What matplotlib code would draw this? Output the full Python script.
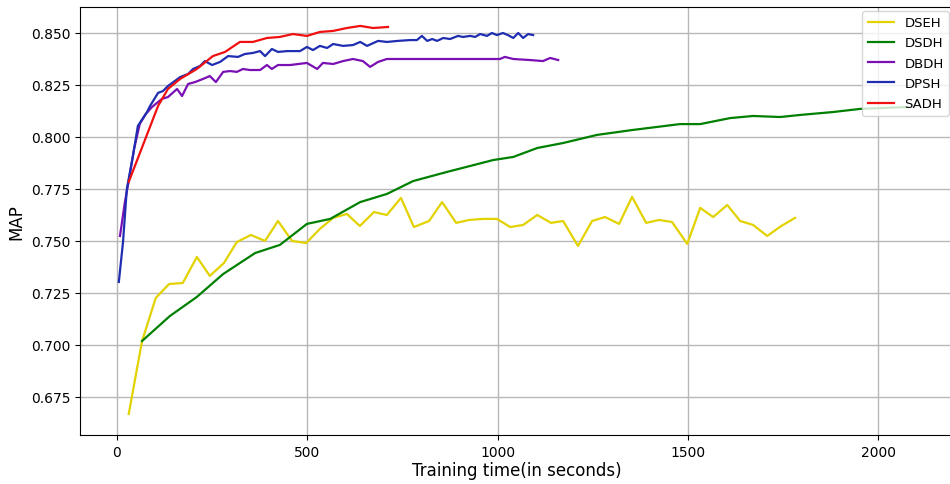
import matplotlib
matplotlib.use("Agg")
import matplotlib.pyplot as plt

# DSEH (yellow)
dseh_t = [31, 66, 102, 137, 173, 210, 244, 281, 315, 352, 389, 423, 460, 497,
          533, 568, 604, 638, 675, 709, 746, 780, 820, 854, 891, 925, 962, 998,
          1033, 1067, 1104, 1140, 1172, 1211, 1248, 1282, 1319, 1353, 1390, 1424,
          1458, 1498, 1532, 1566, 1603, 1637, 1671, 1708, 1745, 1781]
dseh_map = [0.6668, 0.7019, 0.7226, 0.7293, 0.7298, 0.7423, 0.7332, 0.7394,
            0.7495, 0.7529, 0.7500, 0.7596, 0.7500, 0.7490, 0.7558, 0.7611,
            0.7630, 0.7572, 0.7639, 0.7625, 0.7707, 0.7567, 0.7596, 0.7687,
            0.7587, 0.7601, 0.7606, 0.7606, 0.7567, 0.7577, 0.7625, 0.7587,
            0.7596, 0.7476, 0.7596, 0.7615, 0.7582, 0.7712, 0.7587, 0.7601,
            0.7591, 0.7486, 0.7659, 0.7615, 0.7673, 0.7596, 0.7577, 0.7524,
            0.7572, 0.7611]

# DSDH (green)
dsdh_t = [66, 139, 210, 279, 363, 428, 499, 560, 639, 709, 778, 867, 988, 1041,
          1104, 1172, 1261, 1356, 1479, 1532, 1611, 1671, 1742, 1795, 1881, 1952,
          2076]
dsdh_map = [0.7019, 0.7139, 0.7231, 0.7341, 0.7442, 0.7481, 0.7582, 0.7606,
            0.7687, 0.7726, 0.7788, 0.7832, 0.7889, 0.7904, 0.7947, 0.7971,
            0.8010, 0.8034, 0.8062, 0.8062, 0.8091, 0.8101, 0.8096, 0.8106,
            0.8120, 0.8135, 0.8144]

# DBDH (purple)
dbdh_t = [8, 21, 32, 45, 60, 76, 92, 118, 134, 158, 171, 187, 205, 226, 244, 260,
          279, 297, 315, 331, 349, 376, 394, 407, 423, 455, 499, 526, 541, 568,
          594, 620, 646, 665, 686, 709, 796, 901, 1006, 1019, 1041, 1085, 1119,
          1138, 1159]
dbdh_map = [0.7524, 0.7688, 0.7798, 0.7942, 0.8063, 0.8111, 0.8144, 0.8183,
            0.8192, 0.8231, 0.8197, 0.8255, 0.8264, 0.8279, 0.8293, 0.8264,
            0.8313, 0.8317, 0.8313, 0.8327, 0.8322, 0.8322, 0.8346, 0.8327,
            0.8346, 0.8346, 0.8356, 0.8327, 0.8356, 0.8351, 0.8365, 0.8375,
            0.8365, 0.8337, 0.8361, 0.8375, 0.8375, 0.8375, 0.8375, 0.8385,
            0.8375, 0.8370, 0.8365, 0.8380, 0.8370]

# DPSH (blue)
dpsh_t = [5, 16, 26, 42, 55, 79, 87, 108, 121, 134, 152, 166, 187, 200, 218, 231,
          250, 271, 292, 318, 336, 357, 376, 389, 407, 423, 447, 481, 499, 515,
          533, 552, 568, 594, 620, 639, 657, 686, 709, 738, 770, 788, 801, 815,
          828, 841, 857, 875, 896, 909, 928, 941, 954, 972, 985, 998, 1014, 1027,
          1041, 1054, 1067, 1080, 1093]
dpsh_map = [0.7303, 0.7495, 0.7750, 0.7909, 0.8053, 0.8120, 0.8149, 0.8212,
            0.8221, 0.8245, 0.8269, 0.8288, 0.8303, 0.8327, 0.8341, 0.8365,
            0.8346, 0.8361, 0.8389, 0.8385, 0.8399, 0.8404, 0.8413, 0.8389,
            0.8423, 0.8409, 0.8413, 0.8413, 0.8433, 0.8418, 0.8438, 0.8428,
            0.8447, 0.8438, 0.8442, 0.8457, 0.8438, 0.8462, 0.8457, 0.8462,
            0.8466, 0.8466, 0.8486, 0.8462, 0.8471, 0.8462, 0.8476, 0.8471,
            0.8486, 0.8481, 0.8486, 0.8481, 0.8495, 0.8486, 0.8500, 0.8490,
            0.8500, 0.8490, 0.8476, 0.8500, 0.8476, 0.8495, 0.8490]

# SADH (red)
sadh_t = [31, 108, 134, 166, 210, 252, 284, 323, 357, 394, 428, 462, 499, 533,
          568, 604, 639, 673, 712]
sadh_map = [0.7784, 0.8149, 0.8231, 0.8279, 0.8327, 0.8389, 0.8409, 0.8457,
            0.8457, 0.8476, 0.8481, 0.8495, 0.8486, 0.8505, 0.8510, 0.8524,
            0.8534, 0.8524, 0.8529]

fig = plt.figure(figsize=(9.5, 4.85), dpi=100)
ax = fig.add_axes([80 / 950, 1 - 436 / 485, 873 / 950, 428 / 485])

ax.plot(dseh_t, dseh_map, color="#e2d200", lw=1.6, label="DSEH")
ax.plot(dsdh_t, dsdh_map, color="#008000", lw=1.6, label="DSDH")
ax.plot(dbdh_t, dbdh_map, color="#7a10b4", lw=1.6, label="DBDH")
ax.plot(dpsh_t, dpsh_map, color="#1f2db0", lw=1.6, label="DPSH")
ax.plot(sadh_t, sadh_map, color="#f01010", lw=1.6, label="SADH")

ax.set_xlim(-97, 2196)
ax.set_ylim(0.6567, 0.8625)
ax.set_xticks([0, 500, 1000, 1500, 2000])
ax.set_yticks([0.675, 0.700, 0.725, 0.750, 0.775, 0.800, 0.825, 0.850])
ax.set_yticklabels(["0.675", "0.700", "0.725", "0.750", "0.775", "0.800", "0.825", "0.850"])
ax.tick_params(labelsize=10)
ax.grid(True, color="#b8b8b8", lw=1.0)

ax.set_xlabel("Training time(in seconds)", fontsize=12, labelpad=2)
ax.set_ylabel("MAP", fontsize=12)
ax.legend(loc="upper right", fontsize=9.5, handlelength=2.0, labelspacing=0.55,
          borderaxespad=0.3)

fig.savefig("out.png", dpi=100)
